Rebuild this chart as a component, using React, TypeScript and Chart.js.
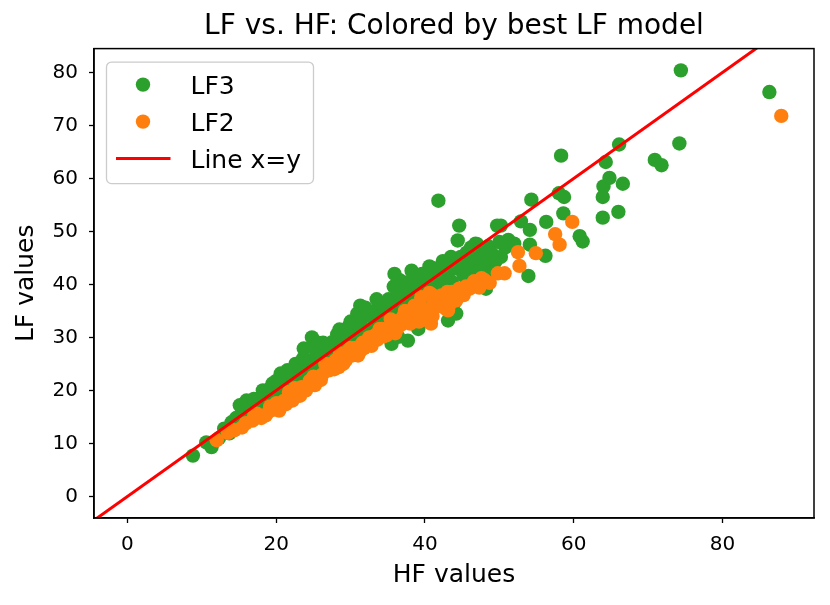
import { useEffect, useRef } from 'react';
import { Chart, registerables } from 'chart.js';

Chart.register(...registerables);

// points: [HF, LF]
const lf3Points: [number, number][] = [
  [8.8, 7.7], [10.6, 10.2], [11.3, 9.3], [12.3, 11.0], [13.0, 12.8], [13.7, 11.9], [14.0, 14.0], [14.6, 14.8],
  [15.1, 17.2], [15.6, 16.0], [16.0, 18.1], [16.3, 15.2], [16.8, 17.0], [17.4, 16.3], [17.8, 18.6], [18.2, 20.0],
  [18.6, 17.4], [19.0, 19.3], [19.5, 21.3], [19.8, 18.0], [20.4, 19.4], [20.8, 21.0], [21.2, 22.6], [21.7, 20.2],
  [22.0, 23.4], [22.6, 25.0], [22.8, 21.6], [23.3, 23.5], [23.7, 27.9], [23.9, 22.4], [24.4, 25.6], [24.8, 30.0],
  [25.1, 24.0], [25.4, 27.0], [25.9, 25.5], [26.3, 29.0], [26.6, 26.9], [27.0, 24.8], [27.5, 29.1], [27.8, 27.2],
  [28.2, 30.6], [28.6, 26.5], [28.8, 30.1], [29.2, 28.4], [29.7, 32.0], [30.1, 27.8], [30.6, 31.9], [31.0, 29.4],
  [31.3, 36.0], [31.3, 33.5], [31.8, 30.8], [32.3, 34.2], [32.7, 29.6], [33.2, 32.5], [33.6, 35.4], [34.0, 36.0],
  [34.2, 31.2], [34.7, 33.8], [35.1, 37.2], [35.5, 28.8], [35.9, 42.0], [35.9, 35.0], [36.4, 38.9], [36.4, 30.1],
  [36.6, 40.8], [36.9, 33.0], [37.3, 37.0], [37.7, 40.4], [37.7, 29.4], [38.2, 42.6], [38.2, 35.2], [38.7, 38.5],
  [39.1, 31.6], [39.4, 40.2], [39.8, 36.4], [40.2, 38.6], [40.6, 43.4], [40.9, 34.0], [41.3, 41.2], [41.8, 55.8],
  [41.8, 37.8], [42.2, 39.9], [42.7, 42.5], [43.1, 33.2], [43.5, 45.2], [43.6, 40.5], [44.0, 36.6], [44.2, 34.5],
  [44.4, 48.3], [44.6, 51.1], [44.9, 42.8], [45.4, 39.6], [45.7, 43.3], [46.2, 47.0], [46.5, 41.8], [46.8, 47.7],
  [47.3, 44.4], [47.7, 45.8], [48.3, 45.9], [48.2, 39.2], [48.8, 43.2], [49.3, 42.6], [49.7, 51.1], [50.2, 51.1],
  [50.2, 45.2], [50.8, 47.0], [51.2, 48.4], [52.0, 47.7], [52.9, 51.9], [53.9, 41.6], [54.1, 50.3], [54.1, 47.5],
  [54.3, 56.0], [56.2, 45.4], [56.3, 51.8], [58.0, 57.2], [58.3, 64.3], [58.6, 53.4], [58.7, 56.5], [60.8, 49.1],
  [61.2, 48.1], [63.9, 56.5], [63.9, 52.6], [64.0, 58.5], [64.3, 63.1], [64.8, 60.1], [66.0, 53.7], [66.1, 66.4],
  [66.6, 59.0], [70.9, 63.5], [71.8, 62.5], [74.2, 66.6], [74.4, 80.4], [86.3, 76.3],
  [14.8, 13.6], [15.9, 14.8], [17.0, 18.4], [18.0, 16.8], [19.2, 20.4], [20.0, 21.8], [20.6, 23.2], [21.5, 23.8],
  [22.3, 22.0], [23.0, 24.8], [23.6, 26.0], [24.2, 23.6], [25.0, 28.2], [25.6, 29.0], [26.0, 27.6], [26.8, 28.4],
  [27.3, 26.0], [28.0, 28.8], [28.5, 31.5], [29.0, 29.8], [29.5, 30.8], [30.0, 33.0], [30.4, 29.2], [30.9, 34.5],
  [31.5, 32.0], [32.0, 35.6], [32.5, 31.5], [33.0, 34.0], [33.5, 37.2], [34.0, 33.2], [34.5, 35.8], [35.0, 34.4],
  [35.5, 36.6], [35.8, 39.6], [36.2, 37.4], [36.8, 36.0], [37.0, 39.0], [37.5, 35.2], [38.0, 37.4], [38.5, 40.4],
  [38.9, 36.8], [39.3, 38.0], [39.6, 42.0], [40.0, 40.4], [40.4, 36.2], [40.8, 39.6], [41.2, 43.0], [41.6, 39.4],
  [42.0, 41.0], [42.4, 44.4], [42.9, 40.4], [43.3, 42.8], [43.8, 44.0], [44.3, 43.0], [44.8, 45.2], [45.2, 41.6],
  [45.6, 46.0], [46.0, 44.2], [46.6, 45.0], [47.0, 47.6], [47.4, 42.6], [47.9, 44.6], [48.5, 47.2], [49.0, 45.8],
  [49.5, 44.4], [50.0, 48.0],
];

const lf2Points: [number, number][] = [
  [12.0, 10.6], [14.4, 12.5], [15.4, 13.0], [16.8, 14.3], [17.4, 15.6], [18.0, 14.8], [18.6, 15.3], [19.2, 17.0],
  [19.8, 16.4], [20.4, 16.2], [21.0, 18.0], [21.7, 19.7], [22.2, 18.1], [22.8, 19.5], [23.4, 20.6], [24.0, 20.0],
  [24.5, 21.8], [25.2, 21.0], [25.7, 21.9], [26.2, 23.0], [26.6, 25.0], [27.1, 23.8], [27.5, 25.1], [28.0, 25.7],
  [28.4, 24.4], [28.8, 26.3], [29.3, 25.6], [29.7, 27.5], [30.2, 26.6], [30.7, 28.0], [31.2, 27.2], [31.6, 29.0],
  [32.0, 28.8], [32.5, 30.0], [33.0, 29.2], [33.3, 30.4], [33.9, 31.6], [34.4, 30.2], [35.1, 31.3], [35.6, 32.4],
  [36.0, 30.8], [36.4, 32.6], [37.0, 33.8], [37.7, 33.2], [37.7, 34.2], [38.3, 35.0], [38.8, 33.4], [39.4, 34.6],
  [40.0, 33.8], [40.8, 32.6], [41.2, 36.8], [42.2, 37.9], [42.8, 35.4], [43.1, 35.1], [43.6, 38.6], [44.0, 37.6],
  [44.2, 37.0], [44.9, 38.4], [45.5, 39.6], [46.0, 39.2], [46.2, 39.5], [47.0, 40.0], [47.6, 41.2], [48.0, 40.8],
  [48.7, 40.3], [49.8, 42.1], [50.7, 42.1], [52.5, 46.1], [52.7, 43.5], [54.9, 45.9], [57.5, 49.5], [58.1, 47.5],
  [59.8, 51.8], [87.9, 71.8],
  [13.5, 12.0], [15.9, 13.8], [17.0, 15.0], [19.0, 16.0], [20.0, 17.6], [21.3, 17.4], [22.5, 20.4], [23.2, 19.0],
  [24.3, 20.8], [25.0, 22.6], [26.0, 22.0], [27.0, 24.8], [27.8, 24.0], [28.6, 27.0], [29.0, 25.0], [30.0, 28.0],
  [31.0, 26.6], [31.8, 28.0], [32.8, 28.4], [33.6, 29.6], [34.2, 31.6], [34.8, 30.4], [35.4, 33.4], [36.2, 31.6],
  [36.8, 32.4], [37.3, 35.0], [38.0, 32.6], [38.6, 36.0], [39.2, 33.0], [39.8, 35.4], [40.4, 34.6], [41.0, 34.0],
  [41.6, 35.8], [42.0, 36.4], [43.0, 38.6], [43.4, 36.4], [44.6, 39.2], [45.2, 38.0], [46.6, 40.6], [47.3, 39.4],
  [39.5, 37.6], [40.6, 38.4], [41.0, 38.0],
];

const diagonal = [-10, 100];
const xTicks = [0, 20, 40, 60, 80];
const yTicks = [0, 10, 20, 30, 40, 50, 60, 70, 80];

const FONT = 'DejaVu Sans';

const frameAndLegend = {
  id: 'frameAndLegend',
  afterDraw(chart: any) {
    const { ctx, chartArea } = chart;
    const { left, top, right, bottom } = chartArea;
    ctx.save();
    ctx.strokeStyle = '#000';
    ctx.lineWidth = 1.5;
    ctx.strokeRect(left, top, right - left, bottom - top);

    // matplotlib-like legend in upper left
    const bx = left + 12.5, by = top + 13.5, bw = 207, bh = 121.5;
    ctx.beginPath();
    ctx.roundRect(bx, by, bw, bh, 5);
    ctx.fillStyle = 'rgba(255,255,255,0.8)';
    ctx.fill();
    ctx.strokeStyle = '#cccccc';
    ctx.lineWidth = 1.3;
    ctx.stroke();

    ctx.font = `25px "${FONT}"`;
    ctx.textBaseline = 'alphabetic';
    chart.data.datasets.forEach((ds: any, i: number) => {
      const cy = by + 22.5 + i * 37;
      if (ds.showLine) {
        ctx.strokeStyle = ds.borderColor;
        ctx.lineWidth = 3;
        ctx.beginPath();
        ctx.moveTo(bx + 9.5, cy);
        ctx.lineTo(bx + 64, cy);
        ctx.stroke();
      } else {
        ctx.fillStyle = ds.backgroundColor;
        ctx.beginPath();
        ctx.arc(bx + 36.5, cy, 7.2, 0, Math.PI * 2);
        ctx.fill();
      }
      ctx.fillStyle = '#000';
      ctx.fillText(ds.label, bx + 84, cy + 9);
    });
    ctx.restore();
  },
};

export default function App() {
  const canvasRef = useRef<HTMLCanvasElement | null>(null);

  useEffect(() => {
    if (!canvasRef.current) return;
    const chart = new Chart(canvasRef.current, {
      type: 'scatter',
      data: {
        datasets: [
          {
            label: 'LF3',
            data: lf3Points.map(([x, y]) => ({ x, y })),
            backgroundColor: '#2ca02c',
            borderWidth: 0,
            pointRadius: 7.2,
            order: 3,
          },
          {
            label: 'LF2',
            data: lf2Points.map(([x, y]) => ({ x, y })),
            backgroundColor: '#ff7f0e',
            borderWidth: 0,
            pointRadius: 7.2,
            order: 2,
          },
          {
            label: 'Line x=y',
            data: diagonal.map((v) => ({ x: v, y: v })),
            showLine: true,
            borderColor: '#ff0000',
            backgroundColor: '#ff0000',
            borderWidth: 3,
            pointRadius: 0,
            clip: 0,
            order: 1,
          },
        ],
      },
      options: {
        responsive: false,
        animation: false,
        layout: { padding: { left: 0, right: 16, top: 0, bottom: 0 } },
        plugins: {
          legend: { display: false },
          tooltip: { enabled: false },
          title: {
            display: true,
            text: 'LF vs. HF: Colored by best LF model',
            fullSize: false,
            color: '#000',
            font: { family: FONT, size: 28, weight: 'normal' },
            padding: { top: 10, bottom: 5 },
          },
        },
        scales: {
          x: {
            type: 'linear',
            min: -4.5,
            max: 92.3,
            afterFit: (s: any) => { s.height = 87; },
            afterBuildTicks: (s: any) => { s.ticks = xTicks.map((value) => ({ value })); },
            ticks: { color: '#000', font: { family: FONT, size: 20 }, padding: 10 },
            grid: { drawOnChartArea: false, drawTicks: true, tickLength: 5, tickColor: '#000', tickWidth: 1.3 },
            border: { display: true, color: '#000', width: 1.5 },
            title: {
              display: true,
              text: 'HF values',
              color: '#000',
              font: { family: FONT, size: 25 },
              padding: { top: 0, bottom: 15 },
            },
          },
          y: {
            type: 'linear',
            min: -4.07,
            max: 84.5,
            afterFit: (s: any) => { s.width = 94; },
            afterBuildTicks: (s: any) => { s.ticks = yTicks.map((value) => ({ value })); },
            ticks: { color: '#000', font: { family: FONT, size: 20 }, padding: 11 },
            grid: { drawOnChartArea: false, drawTicks: true, tickLength: 5, tickColor: '#000', tickWidth: 1.3 },
            border: { display: true, color: '#000', width: 1.5 },
            title: {
              display: true,
              text: 'LF values',
              color: '#000',
              font: { family: FONT, size: 25 },
              padding: { top: 11, bottom: 0 },
            },
          },
        },
      },
      plugins: [frameAndLegend],
    });
    return () => chart.destroy();
  }, []);

  return (
    <div style={{ position: 'fixed', left: 0, top: 0, width: 830, height: 605, background: '#fff' }}>
      <canvas ref={canvasRef} width={830} height={605} style={{ display: 'block' }}></canvas>
    </div>
  );
}
